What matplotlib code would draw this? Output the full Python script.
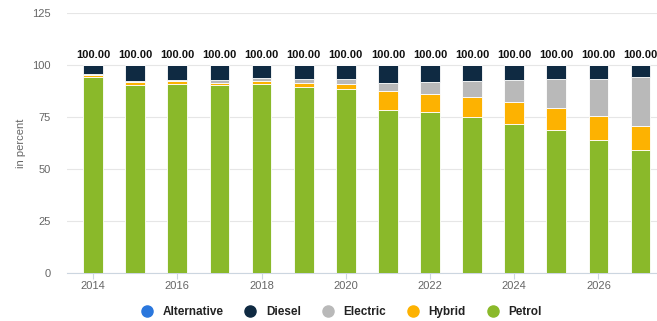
import matplotlib
matplotlib.use("Agg")
import matplotlib.pyplot as plt
from matplotlib.lines import Line2D
import numpy as np

plt.rcParams["font.family"] = ["Liberation Sans", "DejaVu Sans"]

years = list(range(2014, 2028))
petrol = [94.1, 90.2, 90.7, 90.2, 90.7, 89.3, 88.3, 78.5, 77.4, 74.8, 71.6, 68.6, 64.1, 59.1]
hybrid = [1.2, 1.4, 1.5, 1.2, 1.5, 2.0, 2.8, 9.0, 8.5, 10.0, 10.8, 10.6, 11.2, 11.7]
electric = [0.5, 0.6, 0.6, 1.3, 1.6, 1.9, 2.1, 3.9, 6.0, 7.6, 10.4, 14.0, 18.2, 23.5]
alternative = [0.1, 0.1, 0.1, 0.1, 0.1, 0.1, 0.1, 0.1, 0.1, 0.1, 0.1, 0.1, 0.1, 0.1]
diesel = [4.1, 7.7, 7.1, 7.2, 6.1, 6.7, 6.7, 8.5, 8.0, 7.5, 7.1, 6.7, 6.4, 5.6]

series = [
    ("Petrol", petrol, "#8ab92a"),
    ("Hybrid", hybrid, "#fdb201"),
    ("Electric", electric, "#b9b9b9"),
    ("Diesel", diesel, "#0f2a42"),
    ("Alternative", alternative, "#2a77dd"),
]
legend_order = ["Alternative", "Diesel", "Electric", "Hybrid", "Petrol"]

fig = plt.figure(figsize=(6.57, 3.21), dpi=100)
ax = fig.add_axes([0.102, 0.1495, 0.898, 0.81])

x = np.array(years)
bottom = np.zeros(len(years))
for name, vals, color in series:
    ax.bar(x, vals, width=0.47, bottom=bottom, color=color,
           edgecolor="white", linewidth=0.6, zorder=3)
    bottom += np.array(vals)

# totals above each stack
for xi, total in zip(x, bottom):
    ax.text(xi, total + 2.6, f"{total:.2f}", ha="center", va="bottom",
            fontsize=8, fontweight="bold", color="#111111")

ax.set_xlim(2013.38, 2027.39)
ax.set_ylim(0, 125)
ax.set_yticks([0, 25, 50, 75, 100, 125])
ax.set_xticks(range(2014, 2027, 2))
ax.grid(axis="y", color="#e6e6e6", linewidth=0.8, zorder=0)
for side in ["top", "right", "left"]:
    ax.spines[side].set_visible(False)
ax.spines["bottom"].set_color("#ccd6e0")
ax.tick_params(axis="y", length=0, pad=12, labelsize=8, labelcolor="#666666")
ax.tick_params(axis="x", length=4, color="#ccd6e0", pad=2, labelsize=8, labelcolor="#666666")
ax.set_ylabel("in percent", fontsize=8, color="#666666", labelpad=4)

colors = {name: color for name, _, color in series}
handles = [Line2D([], [], marker="o", linestyle="", markersize=8,
                  markerfacecolor=colors[n], markeredgecolor=colors[n]) for n in legend_order]
leg = fig.legend(handles, legend_order, loc="lower center", bbox_to_anchor=(0.515, -0.025),
                 ncol=5, frameon=False, fontsize=8.5, handletextpad=0.3, columnspacing=1.3)
for t in leg.get_texts():
    t.set_fontweight("bold")
    t.set_color("#222222")

fig.savefig("out.png", dpi=100)
